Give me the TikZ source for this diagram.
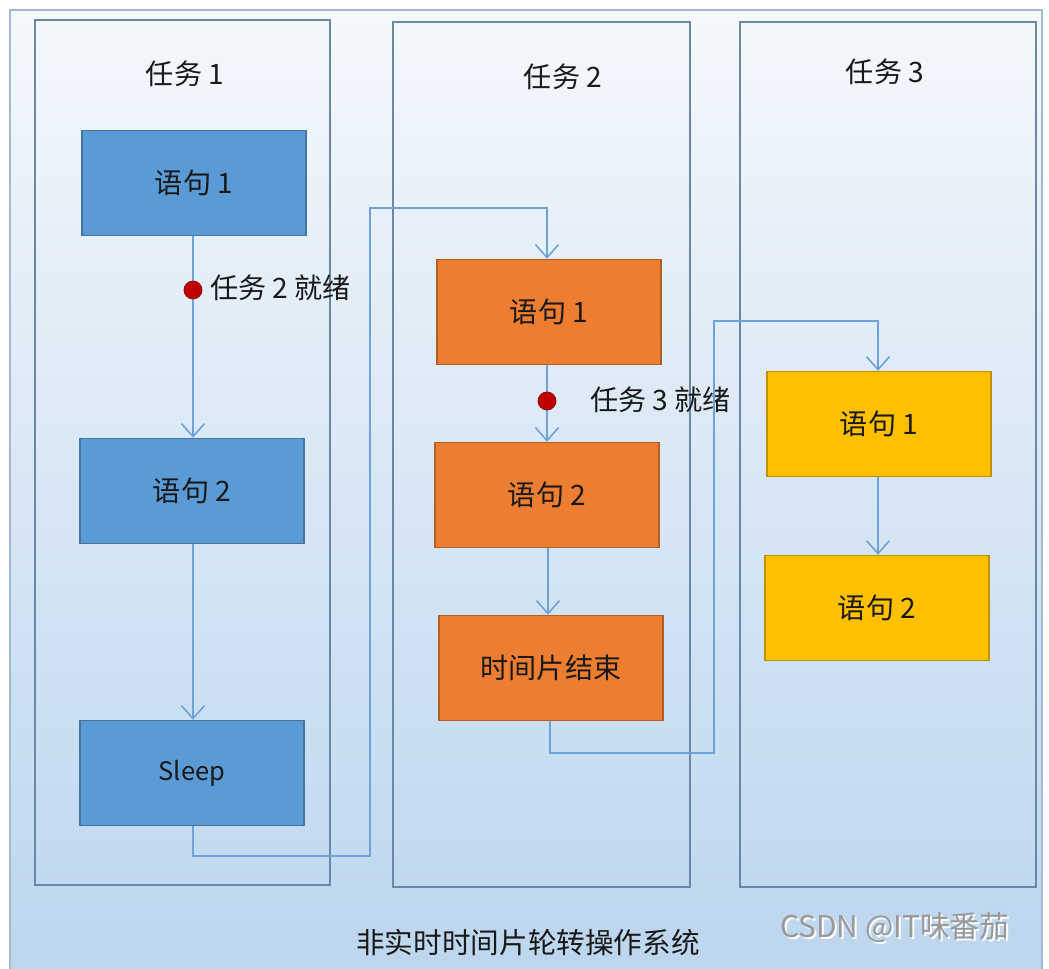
\documentclass[tikz,border=0pt]{standalone}
\usepackage{fontspec}
\setmainfont{Noto Sans CJK SC}
\usetikzlibrary{arrows.meta}
\definecolor{bgtop}{HTML}{F4F8FC}
\definecolor{bgbot}{HTML}{BCD6EE}
\definecolor{colframe}{HTML}{6A88A6}
\definecolor{outerframe}{HTML}{A3BBD0}
\definecolor{stepblue}{HTML}{5B9BD5}
\definecolor{steporange}{HTML}{ED7D31}
\definecolor{stepyellow}{HTML}{FFC000}
\definecolor{flowline}{HTML}{6FA3D8}
\definecolor{readydot}{HTML}{C00000}

\begin{document}
\begin{tikzpicture}[
        x=0.02cm, y=-0.02cm,
        every node/.style={
            inner sep=0pt,
            text=black!90,
            font=\fontsize{16}{19}\selectfont
        },
        stepbox/.style={
            rectangle,
            draw=#1!75!black,
            fill=#1,
            line width=0.8pt,
            minimum width=4.48cm,
            minimum height=2.1cm
        },
        column/.style={
            draw=colframe,
            line width=1.1pt
        },
        arrow/.style={
            -{Straight Barb[length=2.6mm, width=4.6mm]},
            line width=0.9pt,
            color=flowline
        },
        dot/.style={
            circle,
            minimum size=0.36cm,
            fill=readydot,
            draw=readydot!70!black,
            line width=0.4pt
        }
    ]
        \useasboundingbox (0,0) rectangle (1049,969);
        % background
        \shade[top color=bgtop, bottom color=bgbot] (10,10) rectangle (1042,969);
        \draw[outerframe, line width=1pt] (10,975) -- (10,10) -- (1042,10) -- (1042,975);

        % task columns
        \draw[column] (35,20) rectangle (330,885);
        \draw[column] (393,22) rectangle (690,887);
        \draw[column] (740,22) rectangle (1036,887);

        \node (title1) at (185,74) {任务 1};
        \node (title2) at (563,77) {任务 2};
        \node (title3) at (885,72) {任务 3};

        % task 1
        \node (a1) [stepbox=stepblue] at (194,183) {语句 1};
        \node (a2) [stepbox=stepblue] at (192,491) {语句 2};
        \node (a3) [stepbox=stepblue, font=\fontsize{14.5}{17}\selectfont] at (192,773) {Sleep};

        % task 2
        \node (b1) [stepbox=steporange] at (549,312) {语句 1};
        \node (b2) [stepbox=steporange] at (547,495) {语句 2};
        \node (b3) [stepbox=steporange] at (551,668) {时间片结束};

        % task 3
        \node (c1) [stepbox=stepyellow] at (879,424) {语句 1};
        \node (c2) [stepbox=stepyellow] at (877,608) {语句 2};

        % flow
        \draw[arrow] (a1.south -| 193,0) -- (a2.north -| 193,0);
        \draw[arrow] (a2.south -| 193,0) -- (a3.north -| 193,0);
        \node (rdy2) [dot] at (193,290) {};
        \node (lbl2) [anchor=west] at (210,288) {任务 2 就绪};

        \coordinate (turn1) at (370,856);
        \coordinate (turn2) at (370,208);
        \draw[arrow] (a3.south -| 193,0) |- (turn1) -- (turn2) -| (b1.north -| 547,0);

        \draw[arrow] (b1.south -| 547,0) -- (b2.north -| 547,0);
        \draw[arrow] (b2.south -| 548,0) -- (b3.north -| 548,0);
        \node (rdy3) [dot] at (547,401) {};
        \node (lbl3) [anchor=west] at (590,400) {任务 3 就绪};

        \coordinate (turn3) at (714,753);
        \coordinate (turn4) at (714,321);
        \draw[arrow] (b3.south -| 550,0) |- (turn3) -- (turn4) -| (c1.north -| 878,0);

        \draw[arrow] (c1.south -| 878,0) -- (c2.north -| 878,0);

        % caption
        \node (caption) at (528,943) {\fontsize{16.3}{19}\selectfont 非实时时间片轮转操作系统};
        \node (mark) [text=white, font=\fontsize{17}{20}\selectfont] at (897,930) {CSDN @IT味番茄};
        \node (markfg) [text=black!40, font=\fontsize{17}{20}\selectfont] at (895,928) {CSDN @IT味番茄};
    \end{tikzpicture}
\end{document}
